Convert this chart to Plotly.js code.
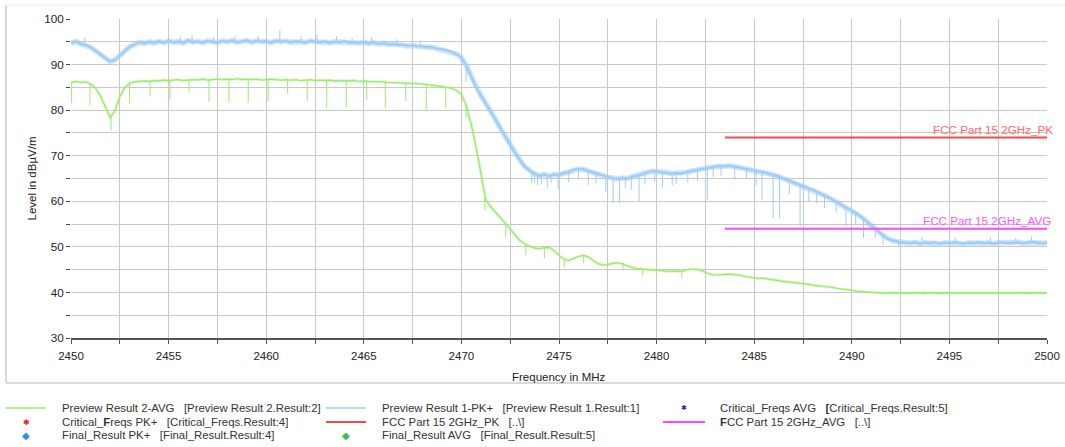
<!DOCTYPE html>
<html>
<head>
<meta charset="utf-8">
<script src="https://cdn.plot.ly/plotly-3.0.1.min.js"></script>
<style>html,body{margin:0;padding:0;background:#fff;}#chart{width:1065px;height:447px;}</style>
</head>
<body>
<div id="chart"></div>
<script>
// Frequency grid (MHz)
const freq = [
2450,2450.25,2450.5,2450.75,2451,2451.25,2451.5,2451.75,2452,2452.25,2452.5,2452.75,2453,2453.25,2453.5,2453.75,2454,2454.25,2454.5,2454.75,
2455,2455.25,2455.5,2455.75,2456,2456.25,2456.5,2456.75,2457,2457.25,2457.5,2457.75,2458,2458.25,2458.5,2458.75,2459,2459.25,2459.5,2459.75,
2460,2460.25,2460.5,2460.75,2461,2461.25,2461.5,2461.75,2462,2462.25,2462.5,2462.75,2463,2463.25,2463.5,2463.75,2464,2464.25,2464.5,2464.75,
2465,2465.25,2465.5,2465.75,2466,2466.25,2466.5,2466.75,2467,2467.25,2467.5,2467.75,2468,2468.25,2468.5,2468.75,2469,2469.25,2469.5,2469.75,
2470,2470.25,2470.5,2470.75,2471,2471.25,2471.5,2471.75,2472,2472.25,2472.5,2472.75,2473,2473.25,2473.5,2473.75,2474,2474.25,2474.5,2474.75,
2475,2475.25,2475.5,2475.75,2476,2476.25,2476.5,2476.75,2477,2477.25,2477.5,2477.75,2478,2478.25,2478.5,2478.75,2479,2479.25,2479.5,2479.75,
2480,2480.25,2480.5,2480.75,2481,2481.25,2481.5,2481.75,2482,2482.25,2482.5,2482.75,2483,2483.25,2483.5,2483.75,2484,2484.25,2484.5,2484.75,
2485,2485.25,2485.5,2485.75,2486,2486.25,2486.5,2486.75,2487,2487.25,2487.5,2487.75,2488,2488.25,2488.5,2488.75,2489,2489.25,2489.5,2489.75,
2490,2490.25,2490.5,2490.75,2491,2491.25,2491.5,2491.75,2492,2492.25,2492.5,2492.75,2493,2493.25,2493.5,2493.75,2494,2494.25,2494.5,2494.75,
2495,2495.25,2495.5,2495.75,2496,2496.25,2496.5,2496.75,2497,2497.25,2497.5,2497.75,2498,2498.25,2498.5,2498.75,2499,2499.25,2499.5,2499.75,
2500];

// Preview Result 1-PK+ (dBµV/m)
const pkLevel = [
94.6,95.1,94.5,94.3,93.8,93.0,92.3,91.4,90.7,91.0,91.9,93.0,93.9,94.4,94.9,94.6,95.0,94.7,95.1,94.8,
95.2,94.9,95.0,94.7,95.3,94.9,95.1,94.8,95.2,95.0,94.8,95.2,95.0,95.3,94.9,95.1,95.3,94.9,95.2,95.0,
95.1,94.8,95.2,95.0,95.2,94.9,95.1,95.0,94.8,95.2,95.0,94.9,95.1,94.8,95.0,94.9,95.1,94.8,94.9,94.7,
94.9,94.6,94.8,94.5,94.7,94.4,94.5,94.3,94.4,94.1,94.2,94.0,94.0,93.8,93.8,93.5,93.4,93.1,92.8,92.3,
91.5,89.8,87.5,85.0,83.2,81.5,79.9,77.9,76.0,74.1,72.4,70.6,69.0,67.6,66.7,66.0,65.6,65.9,65.5,65.9,
65.8,66.2,66.4,66.9,67.1,67.0,66.6,66.3,65.9,65.6,65.3,65.1,64.9,65.1,65.0,65.4,65.6,66.0,66.3,66.6,
66.6,66.4,66.3,66.1,66.2,66.0,66.4,66.6,66.9,67.1,67.3,67.5,67.6,67.8,67.7,67.8,67.6,67.4,67.3,67.0,
66.8,66.5,66.4,66.0,65.8,65.4,65.0,64.6,64.2,63.8,63.3,62.9,62.5,62.0,61.5,61.0,60.4,59.8,59.2,58.6,
58.0,57.3,56.5,55.6,54.8,53.8,52.8,52.0,51.5,51.2,51.0,50.9,50.8,51.0,50.7,50.9,50.8,51.0,50.7,50.9,
50.8,51.0,50.8,50.7,50.9,50.8,51.0,50.8,50.9,50.7,50.9,51.0,50.8,50.9,51.0,50.8,50.9,51.1,50.9,50.8,
50.9];

// Preview Result 2-AVG (dBµV/m)
const avgLevel = [
86.0,86.3,86.1,86.2,85.8,84.9,83.2,80.6,78.4,79.8,83.0,85.0,85.9,86.2,86.3,86.4,86.3,86.5,86.4,86.6,
86.5,86.6,86.7,86.5,86.6,86.7,86.6,86.8,86.6,86.7,86.8,86.7,86.8,86.7,86.9,86.7,86.8,86.7,86.8,86.6,
86.7,86.8,86.7,86.6,86.7,86.6,86.7,86.5,86.6,86.7,86.5,86.6,86.5,86.6,86.4,86.5,86.5,86.4,86.5,86.3,
86.4,86.3,86.3,86.2,86.2,86.1,86.1,86.0,86.0,85.9,85.9,85.8,85.7,85.6,85.5,85.3,85.2,85.0,84.8,84.3,
83.5,81.0,77.0,71.9,66.3,60.3,58.8,57.6,56.6,55.2,53.9,52.6,51.4,50.6,50.1,49.7,49.6,49.8,49.8,49.2,
48.1,47.3,47.0,47.4,47.9,48.1,47.8,47.0,46.3,46.0,46.1,46.4,46.5,46.3,45.8,45.5,45.2,45.1,45.0,44.9,
44.9,44.8,44.7,44.6,44.7,44.6,44.9,45.1,45.1,44.9,44.4,44.0,43.8,43.9,43.9,44.0,43.9,43.8,43.5,43.3,
43.2,43.1,43.1,42.9,42.7,42.6,42.4,42.3,42.2,42.1,41.9,41.8,41.6,41.5,41.4,41.2,41.1,40.9,40.8,40.6,
40.5,40.3,40.2,40.1,40.0,39.9,39.9,39.8,39.9,39.8,39.9,39.8,39.8,39.9,39.8,39.8,39.9,39.8,39.8,39.9,
39.8,39.8,39.9,39.8,39.8,39.9,39.8,39.8,39.9,39.8,39.8,39.9,39.8,39.8,39.9,39.8,39.8,39.9,39.8,39.8,
39.9];

// Narrow spikes on the PK+ trace: frequency, start level, end level
const pkSpikeFreq   = [2450.7,2455.6,2456.2,2457.3,2458.4,2459.6,2460.7,2461.8,2462.6,2463.6,2464.4,2465.4,2466.7,2467.9,
  2470.24,2473.6,2473.75,2473.9,2474.1,2474.4,2474.6,2474.95,2475.5,2476.0,2476.5,2476.9,2477.4,2477.77,2478.1,2478.4,2478.7,
  2479.1,2479.4,2479.9,2480.3,2480.8,2481.0,2481.6,2482.1,2482.6,2482.9,2483.3,2484.0,2484.6,2485.1,2485.4,2485.97,2486.3,
  2486.8,2487.35,2487.8,2488.2,2488.6,2489.2,2489.7,2490.2,2490.6,2491.2,2491.6,2492.4,2493.6,2495.3,2497.1,2498.4,2499.2];
const pkSpikeTop    = [94.4,95.0,95.0,95.0,95.0,95.1,95.0,95.0,95.0,95.0,94.9,94.7,94.5,94.1,
  89.8,66.5,66.5,66.0,65.8,65.8,66.0,66.0,66.3,67.0,66.7,66.4,65.6,65.2,65.0,65.0,65.2,
  65.6,65.9,66.5,66.5,66.2,66.2,66.4,66.9,67.3,67.6,67.8,67.7,67.2,66.8,66.4,66.0,65.6,
  64.6,63.5,62.9,62.3,61.3,60.0,58.8,57.5,56.2,54.0,52.5,51.2,50.9,50.9,50.9,50.9,50.9];
const pkSpikeBottom = [95.9,96.2,96.4,96.0,96.3,96.3,97.6,96.1,96.5,96.2,95.9,96.0,95.6,95.2,
  86.2,64.0,64.2,63.5,63.8,63.0,64.0,62.7,64.2,64.8,63.5,63.9,62.0,59.6,59.6,63.0,62.5,
  59.9,63.8,64.3,63.0,63.5,63.8,64.2,64.5,60.3,65.3,65.5,64.8,65.0,63.5,60.3,56.3,56.3,
  61.5,54.4,60.0,59.5,58.5,57.5,54.4,54.8,51.9,52.0,50.4,50.0,52.2,52.0,52.1,51.9,52.3];

// Narrow spikes on the AVG trace
const avgSpikeFreq   = [2450.02,2450.97,2452.05,2453.0,2454.05,2455.07,2456.05,2457.07,2458.09,2459.08,2460.1,2461.1,2462.1,2463.1,2464.1,2465.15,2466.1,2467.15,2468.2,2469.2,2470.24,2471.2,2472.27,2473.3,2474.25,2475.27,2476.25,2478.28,2479.29,2481.3];
const avgSpikeTop    = [86.0,85.8,78.6,85.9,86.3,86.5,86.6,86.6,86.7,86.7,86.7,86.6,86.6,86.5,86.5,86.4,86.3,86.0,85.7,85.0,81.2,60.6,55.0,50.5,49.8,47.3,48.1,46.3,45.1,44.6];
const avgSpikeBottom = [81.5,81.0,75.5,81.5,83.0,82.2,84.0,81.9,81.6,81.6,81.9,83.6,81.9,80.4,80.6,82.2,80.4,81.9,80.0,80.3,78.3,58.1,52.2,48.2,47.5,45.5,46.4,45.0,43.8,43.1];

// Limit lines
const limitFreq = [2483.5, 2500];
const limitPK  = [74, 74];
const limitAVG = [54, 54];

// Legend entries
const legendTexts = [
  'Preview Result 2-AVG\u00a0\u00a0\u00a0[Preview Result 2.Result:2]',
  'Preview Result 1-PK+\u00a0\u00a0\u00a0[Preview Result 1.Result:1]',
  'Critical_Freqs AVG\u00a0\u00a0\u00a0<b>[</b>Critical_Freqs.Result:5]',
  'Critical_<b>F</b>reqs PK+\u00a0\u00a0\u00a0[Critical_Freqs.Result:4]',
  'FCC Part 15 2GHz_PK\u00a0\u00a0\u00a0[..\\]',
  '<b>F</b>CC Part 15 2GHz_AVG\u00a0\u00a0\u00a0[..\\]',
  'Final_Result PK+\u00a0\u00a0\u00a0[Final_Result.Result:4]',
  'Final_Result AVG\u00a0\u00a0\u00a0[Final_Result.Result:5]'
];

// ---------- drawing ----------
const GREEN = '#9cec6c', BLUE = '#9fccf8', RED = '#f04a4a', MAG = '#ff44ff';
const FONT = 'Liberation Sans, Arial, sans-serif';

function spikes(fx, top, bot) {
  const x = [], y = [];
  for (let i = 0; i < fx.length; i++) { x.push(fx[i], fx[i], null); y.push(top[i], bot[i], null); }
  return {x, y};
}
const pkS = spikes(pkSpikeFreq, pkSpikeTop, pkSpikeBottom);
const avS = spikes(avgSpikeFreq, avgSpikeTop, avgSpikeBottom);

const base = {type: 'scatter', mode: 'lines', showlegend: false, hoverinfo: 'skip'};
const traces = [
  Object.assign({x: freq, y: avgLevel, line: {color: 'rgba(156,236,108,0.35)', width: 2.8}}, base),
  Object.assign({x: freq, y: avgLevel, line: {color: GREEN, width: 1.3}}, base),
  Object.assign({x: avS.x, y: avS.y, line: {color: GREEN, width: 1}}, base),
  Object.assign({x: freq, y: pkLevel, line: {color: 'rgba(159,204,248,0.5)', width: 5.5}}, base),
  Object.assign({x: freq, y: pkLevel, line: {color: BLUE, width: 2.4}}, base),
  Object.assign({x: pkS.x, y: pkS.y, line: {color: BLUE, width: 1}}, base),
  Object.assign({x: limitFreq, y: limitPK, line: {color: RED, width: 2}}, base),
  Object.assign({x: limitFreq, y: limitAVG, line: {color: MAG, width: 2}}, base)
];

// pixel -> paper helpers (plot area: x 71..1047, y 19..338)
const L = 71, R = 1047, T = 19, B = 338;
const px = v => (v - L) / (R - L);
const py = v => (B - v) / (B - T);

const rows = [408, 422, 435];
const colLine = [[6, 46], [326, 366], [663, 705]];
const colText = [60, 380, 718];

const shapes = [
  {type: 'line', xref: 'paper', yref: 'paper', x0: px(6), x1: px(6), y0: py(383), y1: py(5), line: {color: '#b4b4b4', width: 1}},
  {type: 'line', xref: 'paper', yref: 'paper', x0: px(6), x1: px(1066), y0: py(383), y1: py(383), line: {color: '#b4b4b4', width: 1}},
  {type: 'line', xref: 'paper', yref: 'paper', x0: px(6), x1: px(1066), y0: py(5), y1: py(5), line: {color: '#ececec', width: 1}},
  // legend line symbols
  {type: 'line', xref: 'paper', yref: 'paper', x0: px(colLine[0][0]), x1: px(colLine[0][1]), y0: py(rows[0]), y1: py(rows[0]), line: {color: GREEN, width: 1.5}},
  {type: 'line', xref: 'paper', yref: 'paper', x0: px(colLine[1][0]), x1: px(colLine[1][1]), y0: py(rows[0]), y1: py(rows[0]), line: {color: BLUE, width: 1.5}},
  {type: 'line', xref: 'paper', yref: 'paper', x0: px(colLine[1][0]), x1: px(colLine[1][1]), y0: py(rows[1]), y1: py(rows[1]), line: {color: RED, width: 2}},
  {type: 'line', xref: 'paper', yref: 'paper', x0: px(colLine[2][0]), x1: px(colLine[2][1]), y0: py(rows[1]), y1: py(rows[1]), line: {color: MAG, width: 2}}
];

const legendPos = [[0,0],[1,0],[2,0],[0,1],[1,1],[2,1],[0,2],[1,2]];
const annotations = legendTexts.map((t, i) => ({
  xref: 'paper', yref: 'paper', x: px(colText[legendPos[i][0]]), y: py(rows[legendPos[i][1]]),
  xanchor: 'left', yanchor: 'middle', text: t, showarrow: false,
  font: {family: FONT, size: 11.4, color: '#333'}
}));
// legend marker symbols
const mk = (col, row, txt, color, size) => ({
  xref: 'paper', yref: 'paper', x: px((colLine[col][0] + colLine[col][1]) / 2), y: py(rows[row]),
  xanchor: 'center', yanchor: 'middle', text: txt, showarrow: false,
  font: {family: 'DejaVu Sans', size: size, color: color}
});
annotations.push(mk(2, 0, '\u2731', '#1f2fa8', 7));
annotations.push(mk(0, 1, '\u2731', '#ee2222', 8));
annotations.push(mk(0, 2, '\u25C6', '#3a8ee0', 10));
annotations.push(mk(1, 2, '\u25C6', '#44bb44', 10));

// limit labels
annotations.push({x: limitFreq[1], y: limitPK[1], xref: 'x', yref: 'y', xanchor: 'right', yanchor: 'bottom', xshift: 8, yshift: -1,
  text: 'FCC Part 15 2GHz_PK', showarrow: false, font: {family: FONT, size: 11.7, color: '#ff6a6a'}});
annotations.push({x: limitFreq[1], y: limitAVG[1], xref: 'x', yref: 'y', xanchor: 'right', yanchor: 'bottom', xshift: 6, yshift: 0,
  text: 'FCC Part 15 2GHz_AVG', showarrow: false, font: {family: FONT, size: 11.7, color: '#ff55ff'}});

// axis titles
annotations.push({xref: 'paper', yref: 'paper', x: px(31), y: 0.5, xanchor: 'center', yanchor: 'middle', textangle: -90,
  text: 'Level in dBµV/m', showarrow: false, font: {family: FONT, size: 11.5, color: '#222'}});
annotations.push({xref: 'paper', yref: 'paper', x: 0.5, y: py(377), xanchor: 'center', yanchor: 'middle',
  text: 'Frequency in MHz', showarrow: false, font: {family: FONT, size: 11.5, color: '#222'}});

const layout = {
  width: 1065, height: 447,
  margin: {l: L, r: 1065 - R, t: T, b: 447 - B, pad: 0},
  paper_bgcolor: '#fff', plot_bgcolor: '#fff',
  showlegend: false,
  xaxis: {
    range: [2450, 2500], tick0: 2450, dtick: 5, showgrid: true, gridcolor: '#c8c8c8', gridwidth: 1,
    zeroline: false, showline: true, linecolor: '#555', linewidth: 1.5,
    ticks: 'outside', ticklen: 4, tickcolor: '#555', ticklabelstandoff: 3,
    minor: {dtick: 2.5, showgrid: true, gridcolor: '#c8c8c8', ticks: 'outside', ticklen: 4, tickcolor: '#555'},
    tickfont: {family: FONT, size: 11.5, color: '#222'}, fixedrange: true
  },
  yaxis: {
    range: [30, 100], tick0: 30, dtick: 10, showgrid: true, gridcolor: '#c8c8c8', gridwidth: 1,
    zeroline: false, showline: false,
    ticks: 'outside', ticklen: 4, tickcolor: '#444',
    minor: {dtick: 5, showgrid: true, gridcolor: '#c8c8c8', ticks: 'outside', ticklen: 4, tickcolor: '#444'},
    tickfont: {family: FONT, size: 11.7, color: '#222'}, fixedrange: true
  },
  shapes: shapes,
  annotations: annotations
};

Plotly.newPlot('chart', traces, layout, {staticPlot: true, displayModeBar: false});
</script>
</body>
</html>
